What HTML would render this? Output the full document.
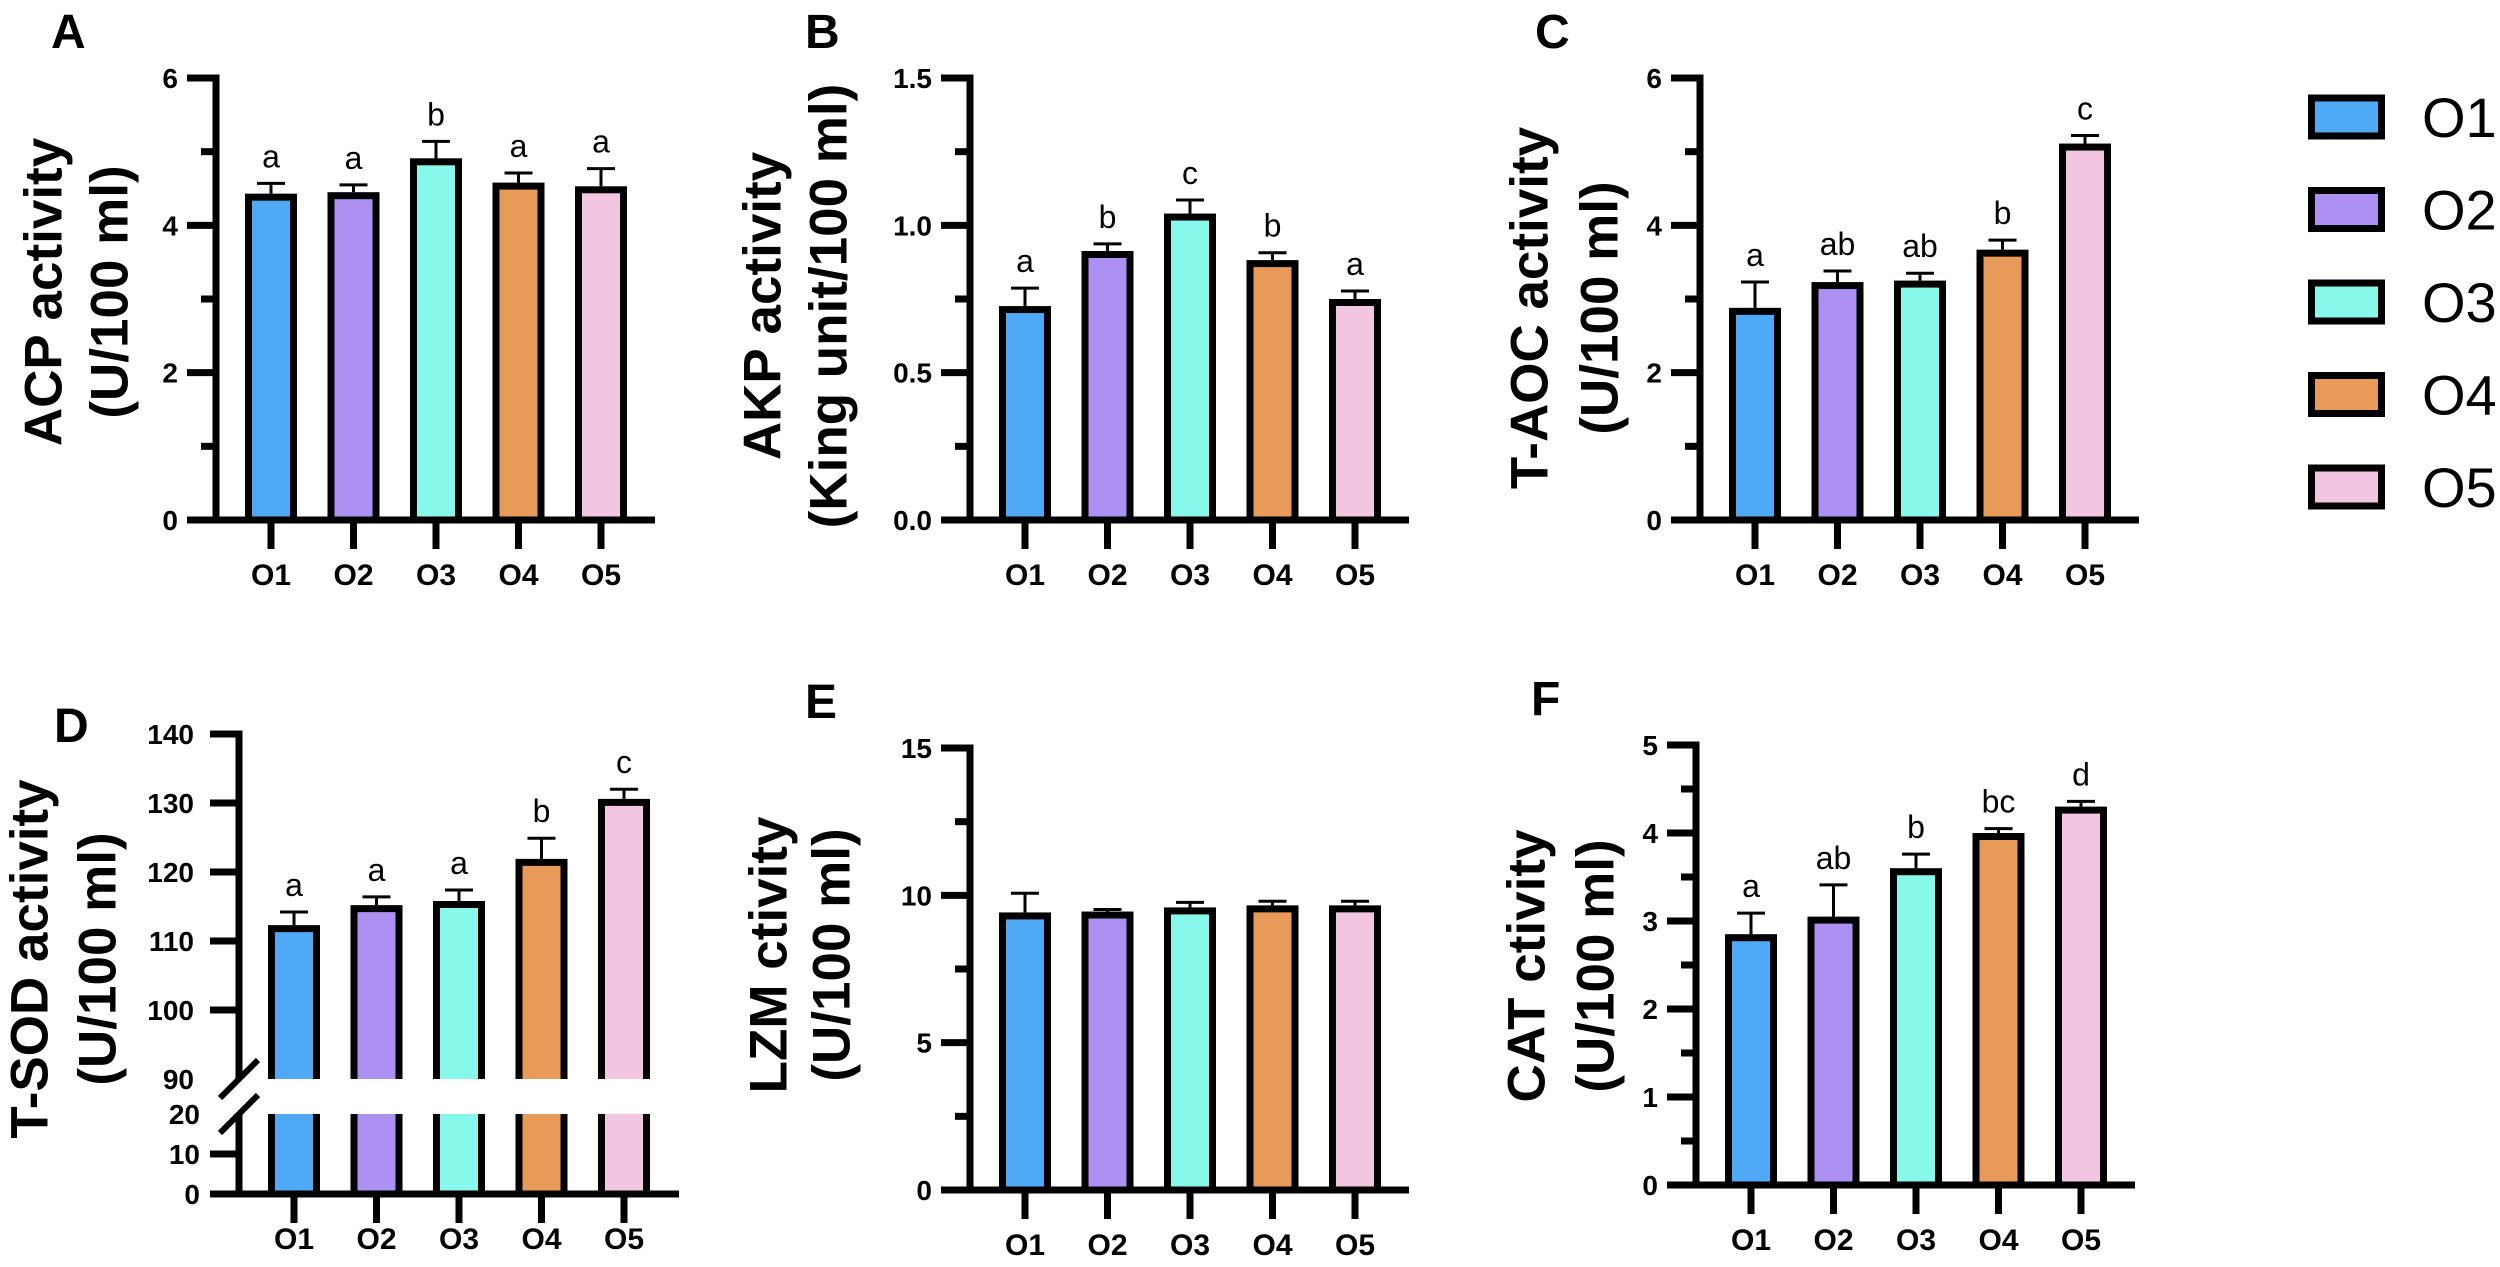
<!DOCTYPE html>
<html><head><meta charset="utf-8">
<style>
html,body{margin:0;padding:0;background:#fff;}
svg{display:block;}
text{font-family:"Liberation Sans",Arial,sans-serif;}
.tick{font-weight:bold;font-size:28px;}
.xl{font-weight:bold;font-size:30px;}
.ttl{font-weight:bold;font-size:53px;}
.plet{font-weight:bold;font-size:48px;}
.sig{font-size:32px;}
</style></head>
<body>
<svg id="fig" width="2500" height="1267" viewBox="0 0 2500 1267" xmlns="http://www.w3.org/2000/svg"></svg>
<script>
const categories = ["O1","O2","O3","O4","O5"];
const colors = ["#4FA9F5","#AC91F2","#87F8EA","#E89B58","#F2C6E0"];

const acpValues = [4.43, 4.45, 4.91, 4.58, 4.53];
const acpErrors = [0.14, 0.10, 0.23, 0.13, 0.24];
const acpLetters = ["a","a","b","a","a"];
const acpTicks = [0, 2, 4, 6];

const akpValues = [0.726, 0.913, 1.04, 0.882, 0.75];
const akpErrors = [0.061, 0.024, 0.046, 0.025, 0.027];
const akpLetters = ["a","b","c","b","a"];
const akpTicks = ["0.0","0.5","1.0","1.5"];

const taocValues = [2.88, 3.23, 3.25, 3.67, 5.11];
const taocErrors = [0.35, 0.15, 0.10, 0.13, 0.11];
const taocLetters = ["a","ab","ab","b","c"];
const taocTicks = [0, 2, 4, 6];

const tsodValues = [112.3, 115.2, 115.8, 121.9, 130.6];
const tsodErrors = [1.9, 1.2, 1.6, 3.0, 1.4];
const tsodLetters = ["a","a","a","b","c"];
const tsodUpperTicks = [100, 110, 120, 130, 140];
const tsodLowerTicks = [0, 10];

const lzmValues = [9.42, 9.45, 9.59, 9.66, 9.66];
const lzmErrors = [0.65, 0.07, 0.17, 0.14, 0.14];
const lzmTicks = [0, 5, 10, 15];

const catValues = [2.85, 3.05, 3.60, 4.00, 4.30];
const catErrors = [0.24, 0.36, 0.16, 0.05, 0.06];
const catLetters = ["a","ab","b","bc","d"];
const catTicks = [0, 1, 2, 3, 4, 5];

const NS = "http://www.w3.org/2000/svg";
const svg = document.getElementById("fig");
function el(tag, attrs, parent, txt){
  const e = document.createElementNS(NS, tag);
  for (const k in attrs) e.setAttribute(k, attrs[k]);
  if (txt !== undefined) e.textContent = txt;
  (parent || svg).appendChild(e);
  return e;
}
const SW = 7, BW = 45, STEP = 82.5, OFF = 55;

function panel(cfg){
  const g = el("g", {});
  
  
  const y = v => cfg.base - (v / cfg.max) * (cfg.base - cfg.top);
  const xc = i => cfg.ax + OFF + i * STEP;
  // panel letter
  const pl = el("text", {x: cfg.ax - 165 + (cfg.letOff||0), y: cfg.top - 30, class: "plet"}, g, cfg.letter);
  
  
  // titles
  const t1 = el("text", {x: cfg.t1x, y: cfg.tcy, class: "ttl", "text-anchor": "middle", "dominant-baseline": "central", transform: `rotate(-90 ${cfg.t1x} ${cfg.tcy})`}, g, cfg.title1);
  
  
  const t2 = el("text", {x: cfg.t2x, y: cfg.tcy, class: "ttl", "text-anchor": "middle", "dominant-baseline": "central", transform: `rotate(-90 ${cfg.t2x} ${cfg.tcy})`}, g, cfg.title2);
  
  
  // bars
  cfg.values.forEach((v, i) => {
    const top = y(v) + SW/2;
    const r = el("rect", {x: xc(i) - BW/2, y: top, width: BW, height: cfg.base - top, fill: colors[i], stroke: "#000", "stroke-width": SW}, g);
    
    
    const ey = y(v + cfg.errors[i]);
    const e1 = el("line", {x1: xc(i), x2: xc(i), y1: top - SW/2, y2: ey, stroke: "#000", "stroke-width": 3}, g);
    
    
    el("line", {x1: xc(i) - 14, x2: xc(i) + 14, y1: ey, y2: ey, stroke: "#000", "stroke-width": 3}, g);
    if (cfg.letters) {
      const s = el("text", {x: xc(i), y: ey - 16, class: "sig", "text-anchor": "middle"}, g, cfg.letters[i]);
      
      
    }
  });
  // y axis
  const ya = el("line", {x1: cfg.ax, x2: cfg.ax, y1: cfg.top - SW/2, y2: cfg.base, stroke: "#000", "stroke-width": SW}, g);
  
  
  cfg.ticks.forEach(t => {
    const v = parseFloat(t);
    el("line", {x1: cfg.ax - 29, x2: cfg.ax, y1: y(v), y2: y(v), stroke: "#000", "stroke-width": SW}, g);
    const tl = el("text", {x: cfg.ax - 38, y: y(v) + 10, class: "tick", "text-anchor": "end"}, g, String(t));
    
    
  });
  for (let m = cfg.minor; m < cfg.max; m += cfg.minor * 2) {
    el("line", {x1: cfg.ax - 15, x2: cfg.ax, y1: y(m), y2: y(m), stroke: "#000", "stroke-width": SW}, g);
  }
  // x axis
  const xa = el("line", {x1: cfg.ax - 29, x2: cfg.ax + 439, y1: cfg.base, y2: cfg.base, stroke: "#000", "stroke-width": SW}, g);
  
  
  categories.forEach((c, i) => {
    el("line", {x1: xc(i), x2: xc(i), y1: cfg.base, y2: cfg.base + 29, stroke: "#000", "stroke-width": SW}, g);
    const xl = el("text", {x: xc(i), y: cfg.base + 65, class: "xl", "text-anchor": "middle"}, g, c);
    
    
  });
}

panel({name:"acp", letter:"A", ax:216, top:78, base:520, max:6, minor:1, ticks:acpTicks, values:acpValues, errors:acpErrors, letters:acpLetters, title1:"ACP activity", title2:"(U/100 ml)", t1x:44, t2x:110, tcy:292});
panel({name:"akp", letter:"B", ax:970, top:78, base:520, max:1.5, minor:0.25, ticks:akpTicks, values:akpValues, errors:akpErrors, letters:akpLetters, title1:"AKP activity", title2:"(King unit/100 ml)", t1x:763, t2x:829, tcy:306});
panel({name:"taoc", letter:"C", ax:1700, top:78, base:520, max:6, minor:1, ticks:taocTicks, values:taocValues, errors:taocErrors, letters:taocLetters, title1:"T-AOC activity", title2:"(U/100 ml)", t1x:1530, t2x:1600, tcy:308});
panel({name:"lzm", letter:"E", ax:970, top:748, base:1190, max:15, minor:2.5, ticks:lzmTicks, values:lzmValues, errors:lzmErrors, letters:null, title1:"LZM ctivity", title2:"(U/100 ml)", t1x:769, t2x:832, tcy:955});
panel({name:"cat", letter:"F", ax:1696, top:745, base:1185, max:5, minor:0.5, ticks:catTicks, values:catValues, errors:catErrors, letters:catLetters, title1:"CAT ctivity", title2:"(U/100 ml)", t1x:1527, t2x:1596, tcy:966});

// Panel D with broken axis
(function(){
  const g = el("g", {});
  
  
  const ax = 239, uTop = 734, uBot = 1079, lTop = 1114, base = 1194;
  const yU = v => uBot - (v - 90) / 50 * (uBot - uTop);
  const yL = v => base - v / 20 * (base - lTop);
  const xc = i => ax + OFF + i * STEP;
  const pl = el("text", {x: 54, y: 742, class: "plet"}, g, "D");
  
  
  const t1 = el("text", {x: 30, y: 959, class: "ttl", "text-anchor": "middle", "dominant-baseline": "central", transform: "rotate(-90 30 959)"}, g, "T-SOD activity");
  
  
  const t2 = el("text", {x: 98, y: 959, class: "ttl", "text-anchor": "middle", "dominant-baseline": "central", transform: "rotate(-90 98 959)"}, g, "(U/100 ml)");
  
  
  tsodValues.forEach((v, i) => {
    const top = yU(v) + SW/2;
    const x0 = xc(i) - BW/2, x1 = xc(i) + BW/2;
    const r = el("rect", {x: x0, y: top, width: BW, height: uBot - top, fill: colors[i]}, g);
    
    
    el("path", {d: `M${x0},${uBot} V${top} H${x1} V${uBot}`, fill: "none", stroke: "#000", "stroke-width": SW}, g);
    el("rect", {x: x0, y: lTop, width: BW, height: base - lTop, fill: colors[i]}, g);
    el("path", {d: `M${x0},${lTop} V${base} M${x1},${lTop} V${base}`, fill: "none", stroke: "#000", "stroke-width": SW}, g);
    const ey = yU(v + tsodErrors[i]);
    const e1 = el("line", {x1: xc(i), x2: xc(i), y1: top - SW/2, y2: ey, stroke: "#000", "stroke-width": 3}, g);
    
    
    el("line", {x1: xc(i) - 14, x2: xc(i) + 14, y1: ey, y2: ey, stroke: "#000", "stroke-width": 3}, g);
    const s = el("text", {x: xc(i), y: ey - 16, class: "sig", "text-anchor": "middle"}, g, tsodLetters[i]);
    
    
  });
  const ya = el("line", {x1: ax, x2: ax, y1: uTop - SW/2, y2: uBot, stroke: "#000", "stroke-width": SW}, g);
  
  
  el("line", {x1: ax, x2: ax, y1: lTop, y2: base, stroke: "#000", "stroke-width": SW}, g);
  tsodUpperTicks.forEach(t => {
    el("line", {x1: ax - 29, x2: ax, y1: yU(t), y2: yU(t), stroke: "#000", "stroke-width": SW}, g);
    const tl = el("text", {x: ax - 45, y: yU(t) + 10, class: "tick", "text-anchor": "end"}, g, String(t));
    
    
  });
  const l90 = el("text", {x: ax - 45, y: uBot + 10, class: "tick", "text-anchor": "end"}, g, "90");
  
  
  const l20 = el("text", {x: ax - 39, y: lTop + 10, class: "tick", "text-anchor": "end"}, g, "20");
  
  
  tsodLowerTicks.forEach(t => {
    el("line", {x1: ax - 29, x2: ax, y1: yL(t), y2: yL(t), stroke: "#000", "stroke-width": SW}, g);
    const tl = el("text", {x: ax - 39, y: yL(t) + 10, class: "tick", "text-anchor": "end"}, g, String(t));
    
    
  });
  const b1 = el("line", {x1: 220, y1: 1098, x2: 258, y2: 1060, stroke: "#000", "stroke-width": 6}, g);
  
  
  el("line", {x1: 220, y1: 1133, x2: 258, y2: 1095, stroke: "#000", "stroke-width": 6}, g);
  const xa = el("line", {x1: ax - 27, x2: ax + 440, y1: base, y2: base, stroke: "#000", "stroke-width": SW}, g);
  
  
  categories.forEach((c, i) => {
    el("line", {x1: xc(i), x2: xc(i), y1: base, y2: base + 29, stroke: "#000", "stroke-width": SW}, g);
    const xl = el("text", {x: xc(i), y: base + 55, class: "xl", "text-anchor": "middle"}, g, c);
    
    
  });
})();

// Legend
(function(){
  const g = el("g", {});
  
  
  categories.forEach((c, i) => {
    const cy = 117 + i * 92.5;
    const r = el("rect", {x: 2311.5, y: cy - 19, width: 70, height: 38, fill: colors[i], stroke: "#000", "stroke-width": 7}, g);
    
    
    const t = el("text", {x: 2422, y: cy + 20, "font-size": 56}, g, c);
    
    
  });
})();
</script>
</body></html>
